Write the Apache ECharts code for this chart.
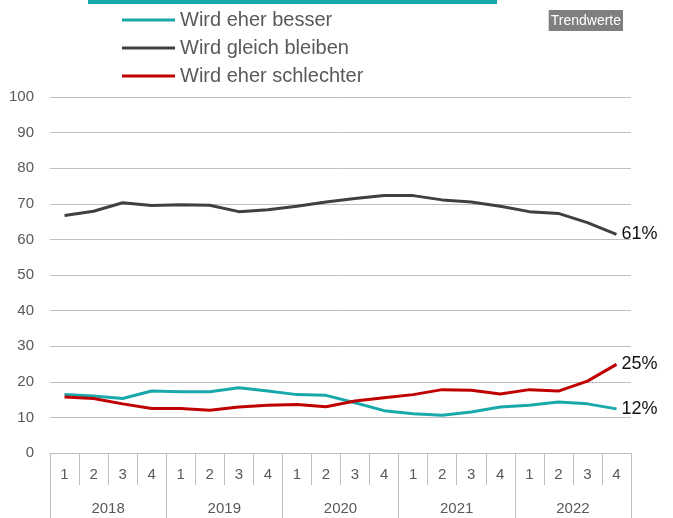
<!DOCTYPE html>
<html><head><meta charset="utf-8">
<script src="https://cdn.jsdelivr.net/npm/echarts@6/dist/echarts.min.js"></script>
<style>html,body{margin:0;padding:0;background:#fff}#c{width:673px;height:518px}</style>
</head><body><div id="c"></div>
<script>
var quarters = ['1','2','3','4','1','2','3','4','1','2','3','4','1','2','3','4','1','2','3','4'];
var years = ['2018','2019','2020','2021','2022'];
var yTicks = [0,10,20,30,40,50,60,70,80,90,100];
var besser = [16.4,16.0,15.3,17.4,17.2,17.2,18.3,17.4,16.4,16.2,14.1,11.9,11.0,10.6,11.5,12.9,13.4,14.3,13.8,12.4];
var gleich = [66.7,67.9,70.3,69.5,69.7,69.6,67.8,68.3,69.3,70.5,71.5,72.3,72.3,71.1,70.5,69.3,67.8,67.3,64.7,61.4];
var schlechter = [15.7,15.3,13.8,12.5,12.5,12.0,12.9,13.4,13.6,13.0,14.6,15.5,16.4,17.8,17.6,16.6,17.8,17.4,20.2,24.9];
var names = ['Wird eher besser','Wird gleich bleiben','Wird eher schlechter'];
var colors = ['#1aa9aa','#404040','#c00000'];
var FONT = "'Liberation Sans Narrow','Liberation Sans',Arial,sans-serif";

var chart = echarts.init(document.getElementById('c'));
function mk(i, data){
  return {
    name: names[i], type:'line', data:data, symbol:'none', smooth:false,
    lineStyle:{width:3,color:colors[i]}, itemStyle:{color:colors[i]},
    xAxisIndex:0, yAxisIndex:0,
    endLabel:{show:true, formatter:function(p){return Math.round(p.value)+'%';}, color:'#111', fontSize:18, fontFamily:FONT, distance:5}
  };
}
chart.setOption({
  animation:false,
  title:{text:'Trendwerte', right:50, top:10, backgroundColor:'#7f7f7f', padding:[4,2,3,2],
    textStyle:{color:'#fff', fontSize:14, fontWeight:'normal', fontFamily:FONT}},
  graphic:[{type:'rect', shape:{x:88,y:0,width:409,height:4}, style:{fill:'#1aa9aa'}}],
  legend:{orient:'vertical', left:122, top:9, padding:0, itemWidth:53, itemHeight:3, icon:'rect', itemGap:6,
    data:names, textStyle:{color:'#595959', fontSize:20, fontFamily:FONT, lineHeight:22, padding:[0,0,0,0]}},
  grid:{left:50, right:42, top:97, bottom:65, containLabel:false},
  xAxis:[{type:'category', data:quarters, position:'bottom', boundaryGap:true,
      axisLine:{show:true, lineStyle:{color:'#bfbfbf', width:1}},
      axisTick:{show:true, interval:0, length:32, lineStyle:{color:'#bfbfbf'}},
      axisLabel:{interval:0, margin:14, color:'#595959', fontSize:15, fontFamily:FONT},
      splitLine:{show:false}},
    {type:'category', data:years, position:'bottom', boundaryGap:true,
      axisLine:{show:false},
      axisTick:{show:true, interval:0, length:65, lineStyle:{color:'#bfbfbf'}},
      axisLabel:{interval:0, margin:48, color:'#595959', fontSize:15, fontFamily:FONT},
      splitLine:{show:false}}],
  yAxis:{type:'value', min:yTicks[0], max:yTicks[yTicks.length-1], interval:10,
    axisLine:{show:false}, axisTick:{show:false},
    axisLabel:{margin:16, color:'#595959', fontSize:15, fontFamily:FONT},
    splitLine:{lineStyle:{color:'#bfbfbf', width:1}}},
  series:[mk(0,besser), mk(1,gleich), mk(2,schlechter)]
});
</script></body></html>
